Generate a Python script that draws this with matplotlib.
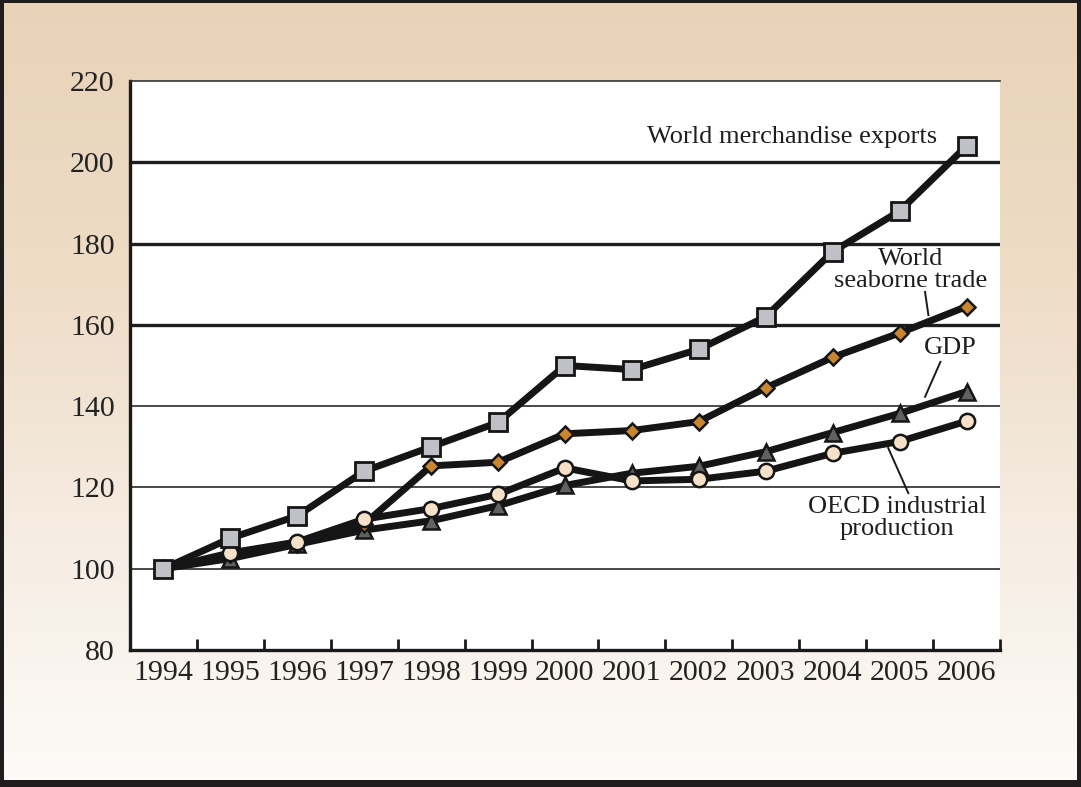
import numpy as np
import matplotlib
matplotlib.use("Agg")
import matplotlib.pyplot as plt
from matplotlib.colors import LinearSegmentedColormap

plt.rcParams['font.family'] = ['Liberation Serif', 'DejaVu Serif']

years = ['1994', '1995', '1996', '1997', '1998', '1999', '2000',
         '2001', '2002', '2003', '2004', '2005', '2006']
exports = [100, 107.5, 113, 124, 130, 136, 150, 149, 154, 162, 178, 188, 204]
seaborne = [100, 103.5, 106, 111, 125.3, 126.2, 133.2, 134, 136.2, 144.5, 152, 158, 164.5]
gdp = [100, 102.5, 106, 109.5, 111.8, 115.5, 120.5, 123.5, 125.2, 128.8, 133.5, 138.2, 143.6]
oecd = [100, 103.9, 106.6, 112.2, 114.8, 118.3, 124.8, 121.6, 122, 124, 128.4, 131.3, 136.3]

W, H = 1081, 787
fig = plt.figure(figsize=(W / 100, H / 100), dpi=100)
fig.patch.set_facecolor('#1e1c1c')

# warm gradient panel inside the dark frame
bg = fig.add_axes([4 / W, 7 / H, 1073 / W, 777 / H])
grad = np.linspace(0, 1, 256).reshape(-1, 1)
cmap = LinearSegmentedColormap.from_list(
    'warm', [(0, '#e9d3b8'), (0.35, '#eedcc6'), (0.7, '#f6ede3'), (1, '#fdfbf8')])
bg.imshow(grad, aspect='auto', cmap=cmap, extent=[0, 1, 0, 1], origin='upper')
bg.set_axis_off()

ax = fig.add_axes([130 / W, 1 - 650 / H, 870 / W, 569 / H])
ax.set_facecolor('white')
x = np.arange(len(years))

ax.set_xlim(-0.5, len(years) - 0.5)
ax.set_ylim(80, 220)

# horizontal rules: heavy in the upper band, light below
for v in [100, 120, 140]:
    ax.axhline(v, color='#2a2a2a', lw=1.2, zorder=1)
for v in [160, 180, 200]:
    ax.axhline(v, color='#1e1e1e', lw=2.4, zorder=1)

lw = 5.0
ink = '#151515'
ax.plot(x, gdp, color=ink, lw=lw, marker='^', ms=11,
        mfc='#5f6163', mec=ink, mew=1.8, zorder=3)
ax.plot(x, seaborne, color=ink, lw=lw, marker='D', ms=8.5,
        mfc='#c9862e', mec=ink, mew=1.8, zorder=4)
ax.plot(x, oecd, color=ink, lw=lw, marker='o', ms=11,
        mfc='#f6e0c8', mec=ink, mew=1.8, zorder=5)
ax.plot(x, exports, color=ink, lw=lw, marker='s', ms=12.5,
        mfc='#c0c1c6', mec=ink, mew=2.0, zorder=6)

# spines
ax.spines['right'].set_visible(False)
ax.spines['top'].set_linewidth(1.2)
ax.spines['top'].set_color('#333333')
for s in ['left', 'bottom']:
    ax.spines[s].set_linewidth(2.4)
    ax.spines[s].set_color('#1a1a1a')

ax.set_yticks(range(80, 221, 20))
ax.tick_params(axis='y', length=0, pad=11, labelsize=21.5, colors='#222222')
ax.set_xticks(x)
ax.set_xticklabels(years)
ax.tick_params(axis='x', which='major', length=0, pad=7, labelsize=21.5, colors='#222222')
ax.set_xticks(np.arange(0.5, len(years), 1.0), minor=True)
ax.tick_params(axis='x', which='minor', direction='in', length=8, width=2, color='#1a1a1a')

fs = 19
tc = '#1e1e1e'
ax.text(11.56, 206.2, 'World merchandise exports', ha='right', va='center',
        fontsize=fs, color=tc, zorder=7)
ax.text(11.17, 173.5, 'World\nseaborne trade', ha='center', va='center',
        multialignment='center', fontsize=fs, color=tc, linespacing=1.0, zorder=7)
ax.plot([11.38, 11.43], [168.1, 162.4], color='#1a1a1a', lw=1.4, zorder=7)
ax.text(11.76, 154.3, 'GDP', ha='center', va='center', fontsize=fs,
        color=tc, zorder=7)
ax.plot([11.61, 11.38], [150.9, 142.3], color='#1a1a1a', lw=1.4, zorder=7)
ax.text(10.96, 112.5, 'OECD industrial\nproduction', ha='center', va='center',
        multialignment='center', fontsize=fs, color=tc, linespacing=1.0, zorder=7)
ax.plot([10.83, 11.13], [129.7, 118.6], color='#1a1a1a', lw=1.4, zorder=7)

fig.savefig('out.png', dpi=100, facecolor=fig.get_facecolor())
